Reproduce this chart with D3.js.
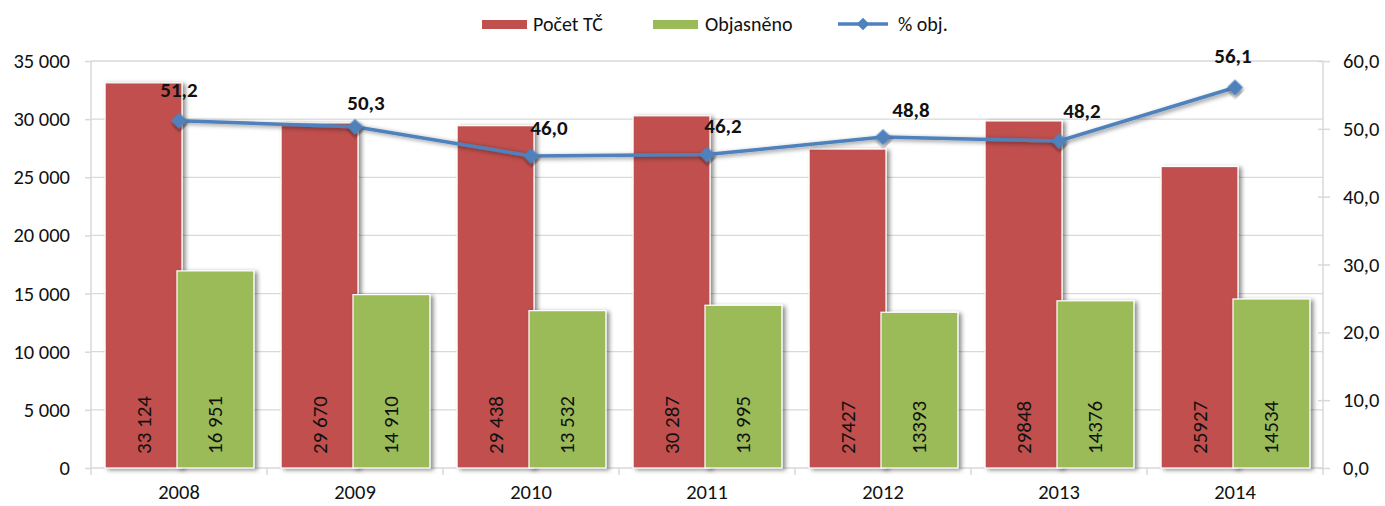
<!DOCTYPE html>
<html>
<head>
<meta charset="utf-8">
<script src="https://cdn.jsdelivr.net/npm/d3@7"></script>
<style>
  body { margin: 0; background: #fff; }
  text { font-family: Carlito, Calibri, Lato, sans-serif; fill: #111; }
</style>
</head>
<body>
<div id="chart"></div>
<script>
// data
var years = ["2008", "2009", "2010", "2011", "2012", "2013", "2014"];
var pocetTC = [33124, 29670, 29438, 30287, 27427, 29848, 25927];
var pocetLabels = ["33 124", "29 670", "29 438", "30 287", "27427", "29848", "25927"];
var objasneno = [16951, 14910, 13532, 13995, 13393, 14376, 14534];
var objLabels = ["16 951", "14 910", "13 532", "13 995", "13393", "14376", "14534"];
var pctObj = [51.2, 50.3, 46.0, 46.2, 48.8, 48.2, 56.1];
var leftTicks = [0, 5000, 10000, 15000, 20000, 25000, 30000, 35000];
var rightTicks = [0, 10, 20, 30, 40, 50, 60];

// label nudges for the % labels (as placed in the original)
var pctLabelDx = [0, 11, 18, 16, 28, 23, -2];
var pctLabelDy = [-31, -24, -28, -29, -27, -30, -32];

var width = 1385,
    height = 506;
var plotLeft = 91, plotRight = 1323, plotTop = 61, plotBottom = 468;
var red = "#C0504D", green = "#9BBB59", blue = "#4F81BD", grid = "#D9D9D9";

var svg = d3.select("#chart").append("svg")
    .attr("width", width)
    .attr("height", height);

var defs = svg.append("defs");
defs.append("filter").attr("id", "shadow")
    .attr("x", "-20%").attr("y", "-20%").attr("width", "150%").attr("height", "150%")
    .append("feDropShadow")
    .attr("dx", 3).attr("dy", 1.5).attr("stdDeviation", 2.2)
    .attr("flood-color", "#000").attr("flood-opacity", 0.45);

var x = d3.scaleBand().domain(years).range([plotLeft, plotRight]).padding(0);
var y = d3.scaleLinear().domain([0, 35000]).range([plotBottom, plotTop]);
var y2 = d3.scaleLinear().domain([0, 60]).range([plotBottom, plotTop]);
var fmt = function (v) { return d3.format(",")(v).replace(/,/g, " "); };
var fmt1 = function (v) { return d3.format(".1f")(v).replace(".", ","); };

// gridlines
svg.append("g").selectAll("line")
    .data(leftTicks.slice(1))
    .enter().append("line")
    .attr("x1", plotLeft).attr("x2", plotRight)
    .attr("y1", function (d) { return y(d); })
    .attr("y2", function (d) { return y(d); })
    .style("stroke", grid).style("stroke-width", 1.3);

// left axis
var leftAxis = svg.append("g")
    .attr("transform", "translate(" + plotLeft + ",0)")
    .call(d3.axisLeft(y).tickValues(leftTicks).tickFormat(fmt).tickSize(6).tickPadding(15));
leftAxis.select(".domain").attr("d", "M0," + plotTop + "V" + (plotBottom + 7));

// right axis
var rightAxis = svg.append("g")
    .attr("transform", "translate(" + plotRight + ",0)")
    .call(d3.axisRight(y2).tickValues(rightTicks).tickFormat(fmt1).tickSize(7).tickPadding(13));
rightAxis.select(".domain").attr("d", "M0," + plotTop + "V" + (plotBottom + 7));
rightAxis.selectAll(".tick line").attr("x1", -5);

// bottom axis
var bottomAxis = svg.append("g")
    .attr("transform", "translate(0," + plotBottom + ")")
    .call(d3.axisBottom(x).tickSize(0).tickPadding(16));
bottomAxis.select(".domain").remove();
bottomAxis.append("line")
    .attr("x1", plotLeft).attr("x2", plotRight)
    .style("stroke", grid).style("stroke-width", 1.5);
bottomAxis.selectAll(".sep")
    .data(years.slice(1))
    .enter().append("line")
    .attr("x1", function (d) { return x(d); })
    .attr("x2", function (d) { return x(d); })
    .attr("y1", 0).attr("y2", 7)
    .style("stroke", grid).style("stroke-width", 1.5);

[leftAxis, rightAxis, bottomAxis].forEach(function (a) {
    a.selectAll(".domain, .tick line").style("stroke", grid).style("stroke-width", 1.5);
    a.selectAll("text").style("font-size", "20.5px").style("fill", "#111")
        .style("font-family", "Carlito, Calibri, Lato, sans-serif");
});

// bars
var bw = x.bandwidth();
var barW = bw * 0.437;
var redX = function (d) { return x(d) + bw * 0.08; };
var greenX = function (d) { return x(d) + bw * 0.08 + barW - 5; };

var gBars = svg.append("g");
gBars.selectAll(".red")
    .data(years)
    .enter().append("rect")
    .attr("x", redX)
    .attr("y", function (d, i) { return y(pocetTC[i]); })
    .attr("width", barW)
    .attr("height", function (d, i) { return plotBottom - y(pocetTC[i]); })
    .style("fill", red).style("stroke", "#fff").style("stroke-width", 1.2)
    .attr("filter", "url(#shadow)");
gBars.selectAll(".green")
    .data(years)
    .enter().append("rect")
    .attr("x", greenX)
    .attr("y", function (d, i) { return y(objasneno[i]); })
    .attr("width", barW)
    .attr("height", function (d, i) { return plotBottom - y(objasneno[i]); })
    .style("fill", green).style("stroke", "#fff").style("stroke-width", 1.2)
    .attr("filter", "url(#shadow)");

// bar value labels (rotated, inside base)
function barLabel(xf, labels) {
    svg.append("g").selectAll("text")
        .data(years)
        .enter().append("text")
        .attr("transform", function (d) {
            return "translate(" + (xf(d) + barW / 2 + 7) + "," + (plotBottom - 14) + ") rotate(-90)";
        })
        .attr("font-size", "21px")
        .text(function (d, i) { return labels[i]; });
}
barLabel(redX, pocetLabels);
barLabel(greenX, objLabels);

// line
var cx = function (d) { return x(d) + bw / 2; };
var line = d3.line()
    .x(function (d) { return cx(d); })
    .y(function (d, i) { return y2(pctObj[i]); });
svg.append("path")
    .datum(years)
    .attr("d", line)
    .style("fill", "none").style("stroke", blue).style("stroke-width", 3.5)
    .attr("filter", "url(#shadow)");

var diamond = d3.symbol().type(d3.symbolSquare).size(125);
svg.append("g").selectAll("path")
    .data(years)
    .enter().append("path")
    .attr("d", diamond)
    .attr("transform", function (d, i) {
        return "translate(" + cx(d) + "," + y2(pctObj[i]) + ") rotate(45)";
    })
    .style("fill", blue)
    .attr("filter", "url(#shadow)");

svg.append("g").selectAll("text")
    .data(years)
    .enter().append("text")
    .attr("x", function (d, i) { return cx(d) + pctLabelDx[i]; })
    .attr("y", function (d, i) { return y2(pctObj[i]) + pctLabelDy[i]; })
    .attr("dy", ".35em")
    .attr("text-anchor", "middle")
    .attr("font-size", "21px")
    .attr("font-weight", "bold")
    .text(function (d, i) { return fmt1(pctObj[i]); });

// legend
var legend = svg.append("g");
legend.append("rect").attr("x", 482).attr("y", 20).attr("width", 45).attr("height", 9).style("fill", red);
legend.append("text").attr("x", 533).attr("y", 24).attr("dy", ".35em").attr("font-size", "20px").text("Počet TČ");
legend.append("rect").attr("x", 653).attr("y", 20).attr("width", 45).attr("height", 9).style("fill", green);
legend.append("text").attr("x", 705).attr("y", 24).attr("dy", ".35em").attr("font-size", "20px").text("Objasněno");
legend.append("line").attr("x1", 838).attr("x2", 888).attr("y1", 24).attr("y2", 24)
    .style("stroke", blue).style("stroke-width", 3.5);
legend.append("path").attr("d", d3.symbol().type(d3.symbolSquare).size(80))
    .attr("transform", "translate(863,24) rotate(45)").style("fill", blue);
legend.append("text").attr("x", 898).attr("y", 24).attr("dy", ".35em").attr("font-size", "20px").text("% obj.");
</script>
</body>
</html>
